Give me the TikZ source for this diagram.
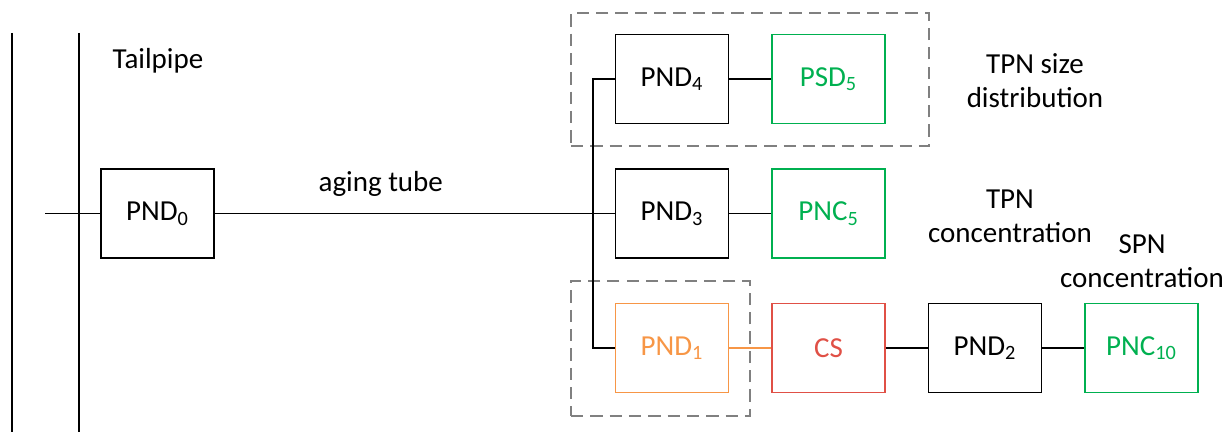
\documentclass[tikz,border=0pt]{standalone}
\usepackage{fontspec}
\setmainfont{Carlito}
\definecolor{ogreen}{RGB}{0,176,80}
\definecolor{oorange}{RGB}{247,150,70}
\definecolor{ored}{RGB}{224,80,70}
\definecolor{dgray}{RGB}{128,128,128}
\begin{document}
\begin{tikzpicture}[x=0.02cm,y=-0.02cm,
  box/.style={draw,line width=1.1pt,minimum width=113*0.02cm,minimum height=89*0.02cm,inner sep=0pt,font=\fontsize{16.5}{19.5}\selectfont},
  gbox/.style={box,draw=ogreen,text=ogreen},
  wire/.style={line width=1.1pt},
  grp/.style={draw=dgray,line width=1.1pt,dash pattern=on 7pt off 4pt},
  lbl/.style={font=\fontsize{16.5}{19.5}\selectfont,align=center,inner sep=0pt}]
\useasboundingbox (0,0) rectangle (1231,432);
% vertical pipe walls
\coordinate (w1t) at (12,33); \coordinate (w1b) at (12,432);
\coordinate (w2t) at (79,33); \coordinate (w2b) at (79,432);
\draw[wire] (w1t) -- (w1b);
\draw[wire] (w2t) -- (w2b);
\node[lbl] (tail) at (158,61) {Tailpipe};
% boxes
\node[box] (p0) at (157.5,213.5) {PND\textsubscript{0}};
\node[box] (p4) at (672,79) {PND\textsubscript{4}};
\node[gbox] (s5) at (828.5,79) {PSD\textsubscript{5}};
\node[box] (p3) at (672,213.5) {PND\textsubscript{3}};
\node[gbox] (c5) at (828.5,213.5) {PNC\textsubscript{5}};
\node[box,draw=oorange,text=oorange] (p1) at (672,348) {PND\textsubscript{1}};
\node[box,draw=ored,text=ored] (cs) at (828.5,348) {CS};
\node[box] (p2) at (985,348) {PND\textsubscript{2}};
\node[gbox] (c10) at (1141.5,348) {PNC\textsubscript{10}};
% dashed groups
\node[grp,minimum width=358*0.02cm,minimum height=133*0.02cm,inner sep=0pt] (g1) at (750,79.5) {};
\node[grp,minimum width=179*0.02cm,minimum height=135*0.02cm,inner sep=0pt] (g2) at (660.5,348.5) {};
% wires
\coordinate (in) at (45,213.5);
\coordinate (jt) at (593,79);
\coordinate (jb) at (593,348);
\draw[wire] (in) -- (p0.west);
\draw[wire] (p0.east) -- node[lbl,pos=0.415,above=9pt]{aging tube} (p3.west);
\draw[wire] (p4.west) -- (jt) -- (jb) -- (p1.west);
\draw[wire] (p4) -- (s5);
\draw[wire] (p3) -- (c5);
\draw[line width=1.1pt,draw=oorange] (p1) -- (cs);
\draw[wire] (cs) -- (p2);
\draw[wire] (p2) -- (c10);
% labels
\node[lbl] (l1) at (1035,81) {TPN size\\distribution};
\node[lbl] (l2) at (1010,216) {TPN\\concentration};
\node[lbl] (l3) at (1142,261) {SPN\\concentration};
\end{tikzpicture}
\end{document}
